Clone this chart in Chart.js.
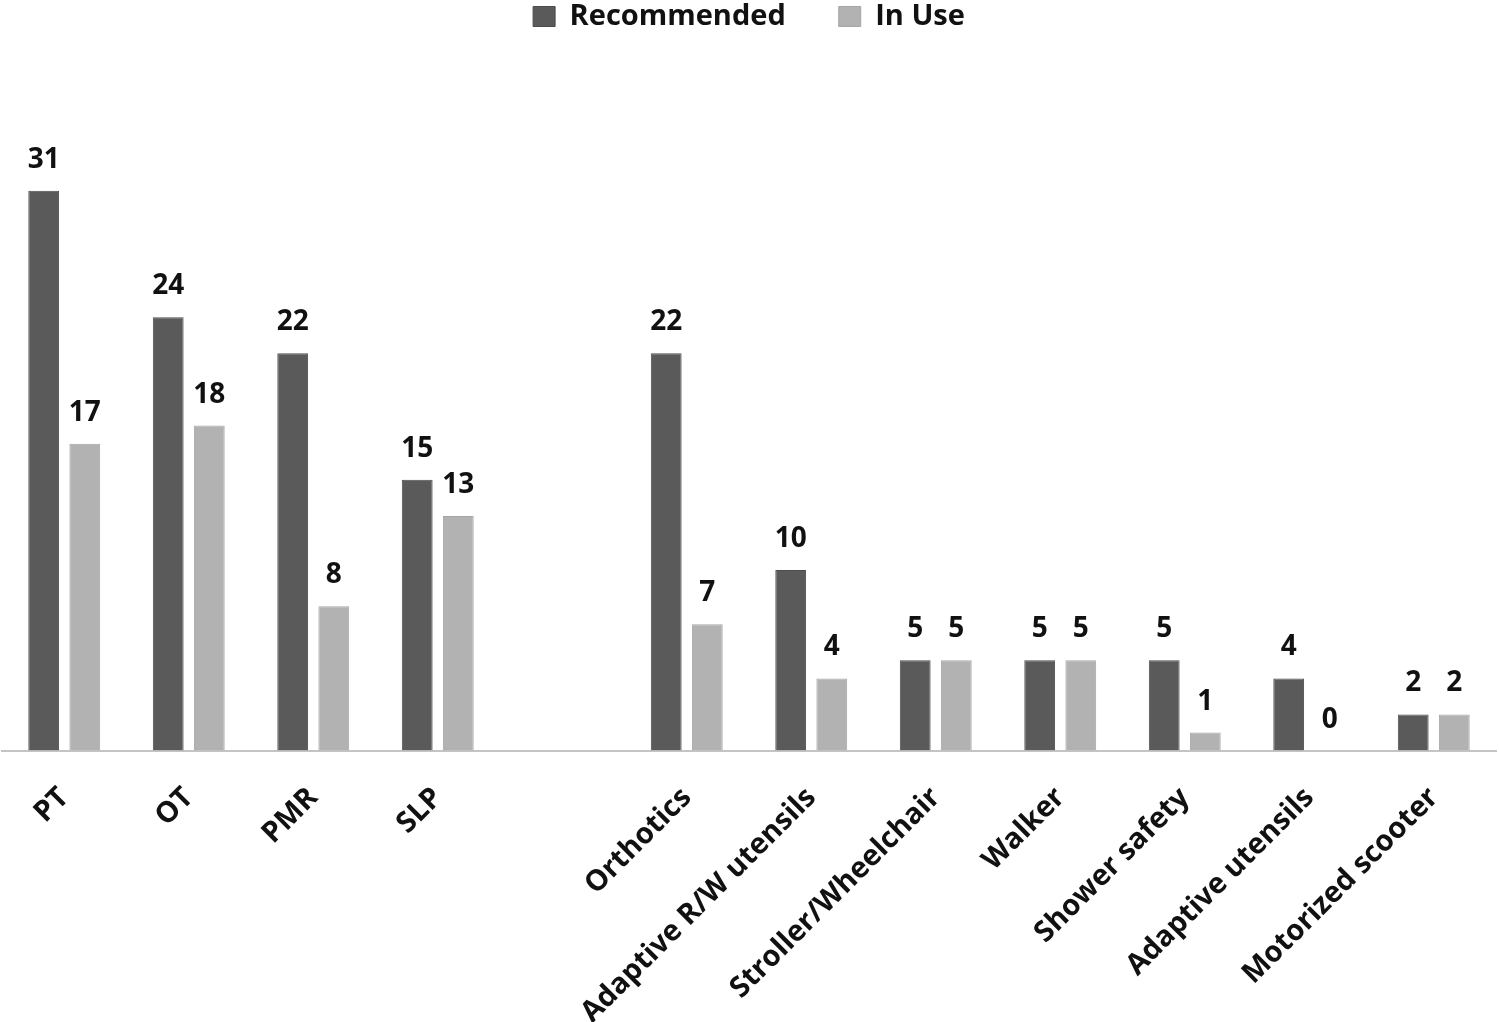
<!DOCTYPE html>
<html>
<head>
<meta charset="utf-8">
<script src="https://cdn.jsdelivr.net/npm/chart.js@4"></script>
<style>
  html, body { margin: 0; padding: 0; background: #fff; }
  #wrap { width: 1499px; height: 1022px; }
</style>
</head>
<body>
<div id="wrap"><canvas id="myChart"></canvas></div>
<script>
var categories = ["PT", "OT", "PMR", "SLP", "", "Orthotics", "Adaptive R/W utensils",
  "Stroller/Wheelchair", "Walker", "Shower safety", "Adaptive utensils", "Motorized scooter"];
var recommended = [31, 24, 22, 15, null, 22, 10, 5, 5, 5, 4, 2];
var inUse = [17, 18, 8, 13, null, 7, 4, 5, 5, 1, 0, 2];
var yMax = 39.3;

// numbers above the bars
var valueLabels = {
  id: "valueLabels",
  afterDatasetsDraw: function(chart) {
    var ctx = chart.ctx;
    ctx.save();
    ctx.font = "700 28px 'Open Sans'";
    ctx.fillStyle = "#111";
    ctx.textAlign = "center";
    ctx.textBaseline = "alphabetic";
    chart.data.datasets.forEach(function(ds, i) {
      chart.getDatasetMeta(i).data.forEach(function(bar, j) {
        if (ds.data[j] === null) return;
        ctx.fillText(ds.data[j], bar.x, bar.y - 23);
      });
    });
    ctx.restore();
  }
};

new Chart("myChart", {
  type: "bar",
  data: {
    labels: categories,
    datasets: [{
      label: "Recommended",
      data: recommended,
      backgroundColor: "#5a5a5a",
      borderColor: "#4c4c4c",
      borderWidth: 1
    }, {
      label: "In Use",
      data: inUse,
      backgroundColor: "#b2b2b2",
      borderColor: "#a6a6a6",
      borderWidth: 1
    }]
  },
  options: {
    responsive: true,
    maintainAspectRatio: false,
    animation: false,
    categoryPercentage: 0.66,
    barPercentage: 0.75,
    layout: { padding: { top: -51, left: 2, right: 3, bottom: -30 } },
    plugins: {
      tooltip: { enabled: false },
      legend: {
        position: "top",
        labels: {
          boxWidth: 22,
          boxHeight: 20,
          padding: 53,
          color: "#111",
          font: { family: "'Open Sans'", size: 29, weight: "700" }
        }
      }
    },
    scales: {
      x: {
        grid: { display: false },
        border: { display: true, color: "#c4c4c4", width: 2 },
        ticks: {
          minRotation: 45,
          maxRotation: 45,
          autoSkip: false,
          padding: 22,
          color: "#111",
          font: { family: "'Open Sans'", size: 29, weight: "700" }
        }
      },
      y: {
        display: false,
        min: 0,
        max: yMax
      }
    }
  },
  plugins: [valueLabels]
});
</script>
</body>
</html>
